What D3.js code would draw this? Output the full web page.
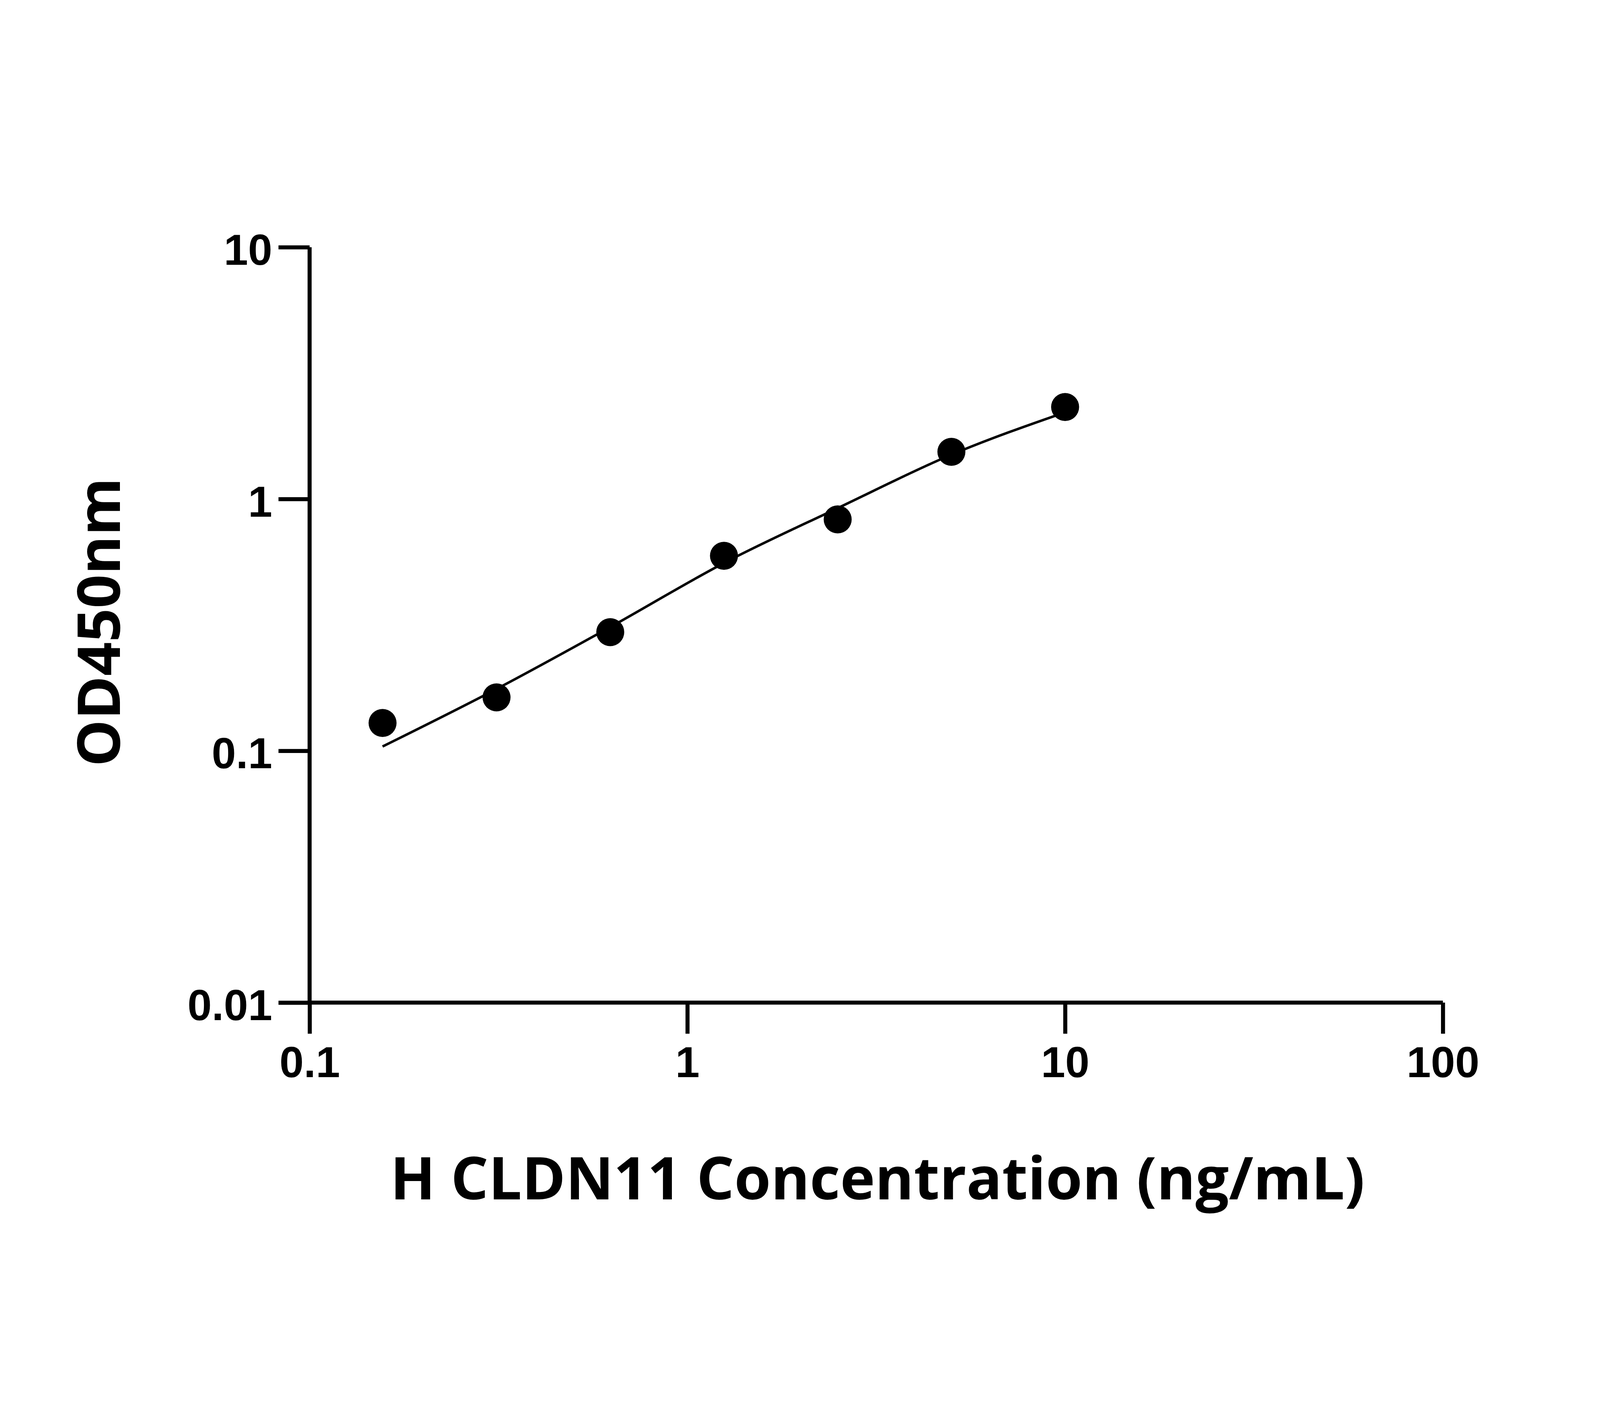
<!DOCTYPE html>
<html><head><meta charset="utf-8">
<script src="https://cdn.jsdelivr.net/npm/d3@7"></script>
<style>html,body{margin:0;padding:0;background:#fff;overflow:hidden}svg{display:block;width:100vw;height:100vh}</style></head>
<body><svg id="c" viewBox="0 0 5142 3600" preserveAspectRatio="xMidYMid meet"></svg>
<script>
const concentrations=[0.156,0.3125,0.625,1.25,2.5,5,10];
const odValues=[0.129,0.163,0.296,0.595,0.83,1.54,2.32];
const fitValues=[0.104,0.176,0.31,0.557,0.92,1.5,2.21];
const xTicks=[0.1,1,10,100];
const yTicks=[0.01,0.1,1,10];
const xTickLabels=["0.1","1","10","100"];
const yTickLabels=["0.01","0.1","1","10"];

const svg=d3.select("#c");
const x=d3.scaleLog().domain([0.1,100]).range([995,4637]);
const y=d3.scaleLog().domain([0.01,10]).range([2763,335]);
const sw=13;
const g=svg.append("g");
const xa=g.append("g").attr("transform","translate(0,2763)")
 .call(d3.axisBottom(x).tickValues(xTicks).tickSize(100).tickPadding(40).tickFormat((d,i)=>xTickLabels[i]));
const ya=g.append("g").attr("transform","translate(995,0)")
 .call(d3.axisLeft(y).tickValues(yTicks).tickSize(100).tickPadding(20).tickFormat((d,i)=>yTickLabels[i]));
[xa,ya].forEach(a=>{
 a.select(".domain").attr("stroke","#000").attr("stroke-width",sw);
 a.selectAll(".tick line").attr("stroke","#000").attr("stroke-width",sw);
 a.selectAll(".tick text").attr("font-family","Liberation Sans, Arial").attr("font-weight","bold").attr("font-size",140).attr("fill","#000");
});
xa.select(".domain").attr("d",`M${x.range()[0]},0H${x.range()[1]}`);
ya.select(".domain").attr("d",`M0,${y.range()[1]}V${y.range()[0]}`);
ya.selectAll(".tick text").attr("dy","0.4em");
const line=d3.line().x((d,i)=>x(concentrations[i])).y(d=>y(d)).curve(d3.curveMonotoneX);
g.append("path").attr("d",line(fitValues)).attr("fill","none").attr("stroke","#000").attr("stroke-width",8);
g.selectAll("circle").data(odValues).join("circle")
 .attr("cx",(d,i)=>x(concentrations[i])).attr("cy",d=>y(d)).attr("r",45).attr("fill","#000");
svg.append("text").attr("x",2820).attr("y",3395).attr("text-anchor","middle")
 .attr("font-family","Open Sans").attr("font-weight","bold").attr("font-size",190).text("H CLDN11 Concentration (ng/mL)");
svg.append("text").attr("transform","translate(385,1540) rotate(-90)").attr("text-anchor","middle")
 .attr("font-family","Open Sans").attr("font-weight","bold").attr("font-size",190).text("OD450nm");
</script></body></html>
